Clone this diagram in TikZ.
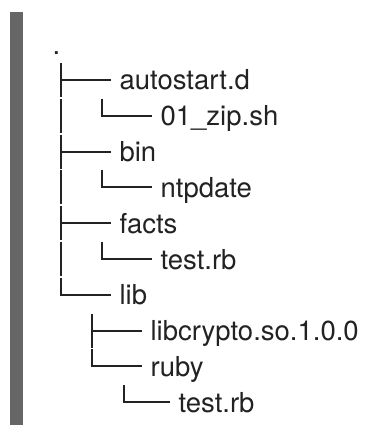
\documentclass[tikz,border=0pt]{standalone}
\usepackage{fontspec}
\setmainfont{TeX Gyre Heros}
\definecolor{ink}{RGB}{34,34,34}
\definecolor{barcolor}{RGB}{102,102,102}
\begin{document}
\begin{tikzpicture}[x=1pt, y=-1pt, line width=2pt,
		file/.style = {anchor=base west, inner xsep=7.6pt, inner ysep=0pt, text=ink, font=\fontsize{27.5}{33}\selectfont},
		branch/.style = {draw=ink, line width=2pt}]
		\useasboundingbox (0,0) rectangle (364,425);
		\fill[barcolor] (10,12) rectangle (23,425);
		% entries
		\node[file, inner xsep=0pt] (root) at (51.5, 54.2) {.};
		\node[file] (autostart) at (111, 90) {autostart.d};
		\node[file] (zip) at (152, 125.8) {01\_zip.sh};
		\node[file] (bin) at (111, 161.6) {bin};
		\node[file] (ntpdate) at (152, 197.4) {ntpdate};
		\node[file] (facts) at (111, 233.2) {facts};
		\node[file] (factstest) at (152, 269) {test.rb};
		\node[file] (lib) at (111, 304.8) {lib};
		\node[file] (libcrypto) at (142, 340.6) {libcrypto.so.1.0.0};
		\node[file] (ruby) at (142, 376.4) {ruby};
		\node[file] (rubytest) at (170, 412.2) {test.rb};
		% trunk
		\coordinate (r1) at (61, 80);
		\coordinate (r2) at (61, 115.8);
		\coordinate (r3) at (61, 151.6);
		\coordinate (r4) at (61, 187.4);
		\coordinate (r5) at (61, 223.2);
		\coordinate (r6) at (61, 259);
		\coordinate (r7) at (61, 294.8);
		% sub levels
		\coordinate (c2) at (102, 115.8);
		\coordinate (c4) at (102, 187.4);
		\coordinate (c6) at (102, 259);
		\coordinate (c8) at (92, 330.6);
		\coordinate (c9) at (92, 366.4);
		\coordinate (c10) at (124, 402.2);
		\draw[branch] ([yshift=17pt]r1) -- ([yshift=-17pt]r1) (r1) -- (autostart.west |- r1);
		\draw[branch] ([yshift=17pt]r2) -- ([yshift=-17pt]r2);
		\draw[branch] ([yshift=17pt]c2) -- (c2) -- (zip.west |- c2);
		\draw[branch] ([yshift=17pt]r3) -- ([yshift=-17pt]r3) (r3) -- (bin.west |- r3);
		\draw[branch] ([yshift=17pt]r4) -- ([yshift=-17pt]r4);
		\draw[branch] ([yshift=17pt]c4) -- (c4) -- (ntpdate.west |- c4);
		\draw[branch] ([yshift=17pt]r5) -- ([yshift=-17pt]r5) (r5) -- (facts.west |- r5);
		\draw[branch] ([yshift=17pt]r6) -- ([yshift=-17pt]r6);
		\draw[branch] ([yshift=17pt]c6) -- (c6) -- (factstest.west |- c6);
		\draw[branch] ([yshift=17pt]r7) -- (r7) -- (lib.west |- r7);
		\draw[branch] ([yshift=17pt]c8) -- ([yshift=-17pt]c8) (c8) -- (libcrypto.west |- c8);
		\draw[branch] ([yshift=17pt]c9) -- (c9) -- (ruby.west |- c9);
		\draw[branch] ([yshift=17pt]c10) -- (c10) -- (rubytest.west |- c10);
	\end{tikzpicture}
\end{document}
